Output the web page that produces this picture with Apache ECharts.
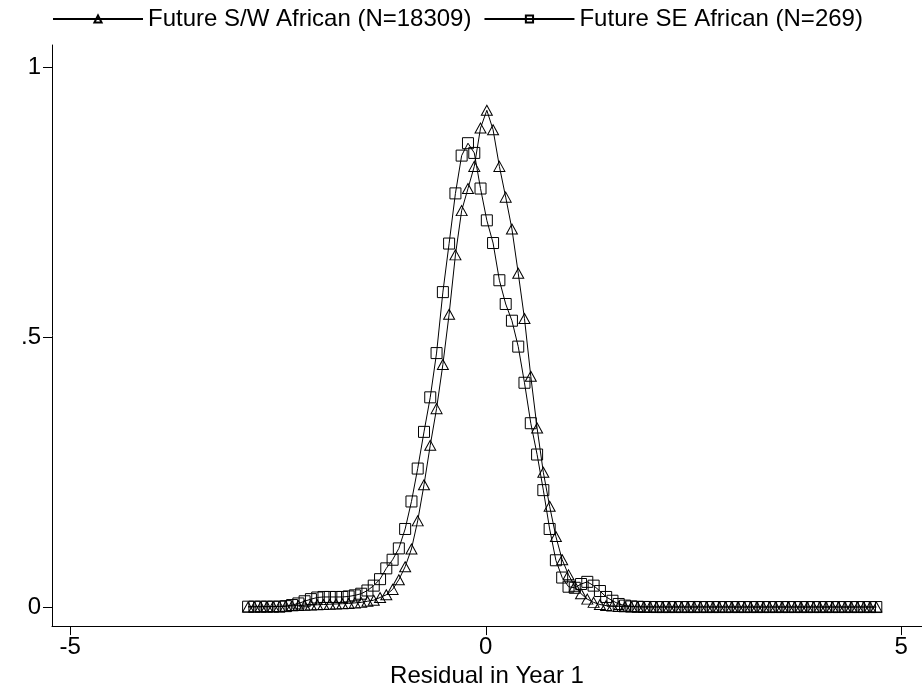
<!DOCTYPE html>
<html>
<head>
<meta charset="utf-8">
<script src="https://cdn.jsdelivr.net/npm/echarts@6/dist/echarts.min.js"></script>
<style>html,body{margin:0;padding:0;background:#fff;}#c{width:922px;height:693px;}</style>
</head>
<body>
<div id="c"></div>
<script>
var xs = [-2.860,-2.784,-2.709,-2.633,-2.558,-2.482,-2.406,-2.331,-2.255,-2.180,
-2.104,-2.028,-1.953,-1.877,-1.802,-1.726,-1.650,-1.575,-1.499,-1.424,
-1.348,-1.272,-1.197,-1.121,-1.046,-0.970,-0.894,-0.819,-0.743,-0.668,
-0.592,-0.516,-0.441,-0.365,-0.290,-0.214,-0.138,-0.063,0.013,0.088,
0.164,0.240,0.315,0.391,0.466,0.542,0.618,0.693,0.769,0.844,
0.920,0.996,1.071,1.147,1.222,1.298,1.374,1.449,1.525,1.600,
1.676,1.752,1.827,1.903,1.978,2.054,2.130,2.205,2.281,2.356,
2.432,2.508,2.583,2.659,2.734,2.810,2.886,2.961,3.037,3.112,
3.188,3.264,3.339,3.415,3.490,3.566,3.642,3.717,3.793,3.868,
3.944,4.020,4.095,4.171,4.246,4.322,4.398,4.473,4.549,4.624,4.700];

var swAfrican = [0.0005,0.0006,0.0008,0.001,0.0012,0.0015,0.002,0.0025,0.003,0.0035,
0.004,0.0045,0.005,0.0055,0.006,0.0065,0.007,0.008,0.009,0.011,
0.013,0.018,0.023,0.033,0.051,0.075,0.108,0.160,0.227,0.300,
0.368,0.450,0.543,0.653,0.735,0.776,0.817,0.888,0.921,0.885,
0.817,0.760,0.701,0.619,0.535,0.428,0.332,0.250,0.187,0.131,
0.088,0.060,0.039,0.025,0.015,0.009,0.005,0.003,0.002,0.0015,
0.001,0.0008,0.0007,0.0006,0.0006,0.0005,0.0005,0.0005,0.0005,0.0005,
0.0005,0.0006,0.0006,0.0005,0.0005,0.0005,0.0004,0.0004,0.0004,0.0004,
0.0004,0.0004,0.0004,0.0004,0.0004,0.0004,0.0004,0.0004,0.0004,0.0004,
0.0004,0.0004,0.0004,0.0004,0.0004,0.0004,0.0004,0.0004,0.0004,0.0004,0.0004];

var seAfrican = [0.001,0.001,0.001,0.001,0.001,0.001,0.002,0.004,0.007,0.011,
0.015,0.018,0.019,0.019,0.019,0.019,0.020,0.022,0.025,0.031,
0.040,0.052,0.072,0.088,0.109,0.145,0.196,0.257,0.325,0.389,
0.471,0.584,0.674,0.767,0.837,0.860,0.842,0.776,0.717,0.675,
0.606,0.562,0.531,0.483,0.416,0.341,0.283,0.217,0.145,0.087,
0.055,0.038,0.036,0.043,0.047,0.040,0.030,0.019,0.012,0.006,
0.003,0.0015,0.0008,0.0005,0.0004,0.0003,0.0003,0.0003,0.0003,0.0003,
0.0003,0.0003,0.0003,0.0003,0.0003,0.0003,0.0003,0.0003,0.0003,0.0003,
0.0003,0.0003,0.0003,0.0003,0.0003,0.0003,0.0003,0.0003,0.0003,0.0003,
0.0003,0.0003,0.0003,0.0003,0.0003,0.0003,0.0003,0.0003,0.0003,0.0003,0.0003];

var seriesNames = ['Future S/W African (N=18309)', 'Future SE African (N=269)'];
var xTicks = [-5, 0, 5];
var yTicks = [0, 0.5, 1];
var yTickLabels = {'0': '0', '0.5': '.5', '1': '1'};
var xTitle = 'Residual in Year 1';

function pairs(ys) { return xs.map(function (x, i) { return [x, ys[i]]; }); }

var FONT = 'Liberation Sans';
var FS = 24;
var chart = echarts.init(document.getElementById('c'), null, {renderer: 'canvas'});
var markerStyle = {color: 'transparent', borderColor: '#000', borderWidth: 1};
chart.setOption({
  animation: false,
  backgroundColor: '#fff',
  textStyle: {fontFamily: FONT, color: '#000'},
  legend: {
    top: 2, left: 47, itemGap: 12, itemWidth: 90, itemHeight: 9, padding: 5,
    textStyle: {fontFamily: FONT, fontSize: FS, color: '#000'},
    data: seriesNames
  },
  grid: {left: 52, right: 0, top: 45, bottom: 54, containLabel: false},
  xAxis: {
    type: 'value', min: -5.22, max: 5.25,
    name: xTitle, nameLocation: 'middle', nameGap: 33,
    nameTextStyle: {fontFamily: FONT, fontSize: FS, color: '#000'},
    axisLine: {show: true, onZero: false, lineStyle: {color: '#000', width: 1}},
    axisTick: {show: true, length: 9, customValues: xTicks, lineStyle: {color: '#000'}},
    axisLabel: {customValues: xTicks, fontFamily: FONT, fontSize: FS, color: '#000', margin: 9},
    splitLine: {show: false}
  },
  yAxis: {
    type: 'value', min: -0.0350, max: 1.0420,
    axisLine: {show: true, onZero: false, lineStyle: {color: '#000', width: 1}},
    axisTick: {show: true, length: 9, customValues: yTicks, lineStyle: {color: '#000'}},
    axisLabel: {customValues: yTicks, fontFamily: FONT, fontSize: FS, color: '#000', margin: 11,
      formatter: function (v) { return yTickLabels[String(v)]; }},
    splitLine: {show: false}
  },
  series: [
    {name: seriesNames[0], type: 'line', data: pairs(swAfrican), symbol: 'triangle', symbolSize: [11, 10],
     itemStyle: markerStyle, lineStyle: {color: '#000', width: 1}, z: 3},
    {name: seriesNames[1], type: 'line', data: pairs(seAfrican), symbol: 'rect', symbolSize: [11, 11],
     itemStyle: markerStyle, lineStyle: {color: '#000', width: 1}, z: 2}
  ]
});
</script>
</body>
</html>
